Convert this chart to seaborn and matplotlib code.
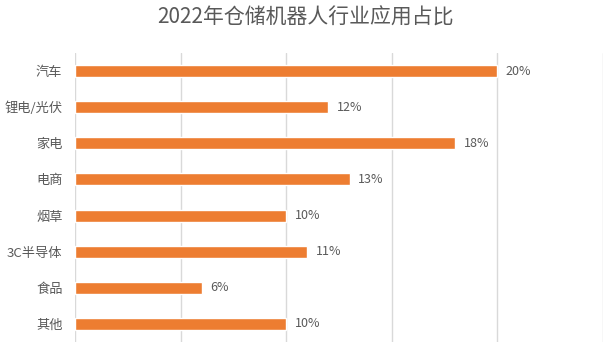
import matplotlib
matplotlib.use('Agg')
import matplotlib.pyplot as plt
import seaborn as sns
import pandas as pd

categories = ['汽车', '锂电/光伏', '家电', '电商', '烟草', '3C半导体', '食品', '其他']
shares = [20, 12, 18, 13, 10, 11, 6, 10]

df = pd.DataFrame({'industry': categories, 'share': shares})

sns.set_style('white')
plt.rcParams['font.family'] = ['Noto Sans CJK SC', 'DejaVu Sans']

fig = plt.figure(figsize=(6.11, 3.56), dpi=100)
ax = fig.add_axes([75 / 611, 1 - 342 / 356, (603 - 75) / 611, (342 - 53) / 356])

sns.barplot(data=df, x='share', y='industry', orient='h', color='#ED7D31',
            width=0.33, saturation=1, ax=ax, zorder=3)

ax.set_xlim(0, 25)
ax.set_xticks([0, 5, 10, 15, 20, 25])
ax.set_xticklabels([])
ax.tick_params(axis='both', length=0)
ax.grid(axis='x', color='#d9d9d9', lw=1, zorder=0)
ax.grid(axis='y', visible=False)
for s in ax.spines.values():
    s.set_visible(False)
ax.set_xlabel('')
ax.set_ylabel('')
ax.tick_params(axis='y', labelsize=9.5, labelcolor='#595959', pad=9)

for i, v in enumerate(shares):
    ax.text(v + 0.4, i, f'{v}%', va='center', ha='left', fontsize=9, color='#595959')

fig.suptitle('2022年仓储机器人行业应用占比', fontsize=15, color='#595959', y=0.98)

fig.savefig('out.png', dpi=100)
